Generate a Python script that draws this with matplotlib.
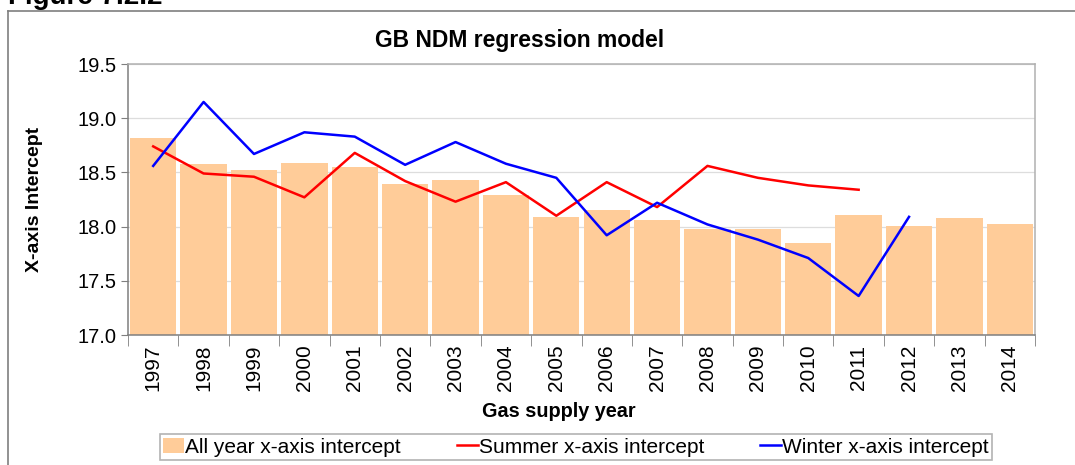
import numpy as np
import matplotlib
matplotlib.use("Agg")
import matplotlib.pyplot as plt
from matplotlib.lines import Line2D
from matplotlib.patches import Patch

plt.rcParams['font.family'] = ['Liberation Sans', 'DejaVu Sans']

# values
years = ['1997', '1998', '1999', '2000', '2001', '2002', '2003', '2004', '2005',
         '2006', '2007', '2008', '2009', '2010', '2011', '2012', '2013', '2014']
all_year = [18.82, 18.58, 18.52, 18.59, 18.55, 18.39, 18.43, 18.29, 18.09,
            18.15, 18.06, 17.98, 17.98, 17.85, 18.11, 18.01, 18.08, 18.02]
summer = [18.74, 18.49, 18.46, 18.27, 18.68, 18.42, 18.23, 18.41, 18.10,
          18.41, 18.18, 18.56, 18.45, 18.38, 18.34]
winter = [18.56, 19.15, 18.67, 18.87, 18.83, 18.57, 18.78, 18.58, 18.45,
          17.92, 18.22, 18.02, 17.88, 17.71, 17.36, 18.09]
y_ticks = [17.0, 17.5, 18.0, 18.5, 19.0, 19.5]

W, H = 1075, 465
fig = plt.figure(figsize=(W / 100, H / 100), dpi=100)

# outer frame (left + top edges visible in the reference)
fig.add_artist(Line2D([7.5 / W, 7.5 / W], [0, 1 - 11.5 / H], transform=fig.transFigure,
                      color='#7f7f7f', lw=1.2))
fig.add_artist(Line2D([7.5 / W, 1], [1 - 11.5 / H, 1 - 11.5 / H], transform=fig.transFigure,
                      color='#7f7f7f', lw=1.2))
# caption cut off at the top of the image, as in the reference
fig.text(8 / W, 1 - 4 / H, 'Figure 7.2.2', fontsize=20, fontweight='bold', va='baseline')

ax = fig.add_axes([128 / W, 1 - 335 / H, (1035 - 128) / W, (335 - 64) / H])
x = np.arange(len(years))
ax.bar(x, all_year, width=0.92, color='#FFCC99', zorder=2, label='All year x-axis intercept')
ax.plot(np.arange(len(summer)), summer, color='#FF0000', lw=1.8, zorder=3,
        label='Summer x-axis intercept')
ax.plot(np.arange(len(winter)), winter, color='#0000FF', lw=1.8, zorder=4,
        label='Winter x-axis intercept')

ax.set_xlim(-0.5, len(years) - 0.5)
ax.set_ylim(17.0, 19.5)
ax.set_yticks(y_ticks)
ax.set_yticklabels([f'{v:.1f}' for v in y_ticks], fontsize=14.5)
ax.set_xticks(x)
ax.set_xticklabels(years, rotation=90, fontsize=15)
ax.set_xticks(np.arange(-0.5, len(years), 1), minor=True)
ax.tick_params(axis='x', which='major', length=0, pad=7)
ax.tick_params(axis='x', which='minor', length=8, color='#7f7f7f', direction='out')
ax.tick_params(axis='y', length=5, color='#7f7f7f', direction='out', pad=3)
ax.grid(axis='y', color='#DDDDDD', lw=0.9, zorder=0)
ax.set_axisbelow(True)
for side in ['left', 'bottom']:
    ax.spines[side].set_color('#7f7f7f')
    ax.spines[side].set_linewidth(1.1)
for side in ['top', 'right']:
    ax.spines[side].set_color('#B0B0B0')
    ax.spines[side].set_linewidth(1.1)

ax.set_ylabel('X-axis Intercept', fontsize=14, fontweight='bold')
ax.yaxis.set_label_coords((43 - 128) / (1035 - 128), 0.5)
fig.text(559 / W, 1 - 411 / H, 'Gas supply year', fontsize=14.3, fontweight='bold',
         ha='center', va='center')
fig.text(520 / W, 1 - 40 / H, 'GB NDM regression model', fontsize=16.5, fontweight='bold',
         ha='center', va='center')

handles = [Patch(facecolor='#FFCC99', edgecolor='none'),
           Line2D([], [], color='#FF0000', lw=1.8),
           Line2D([], [], color='#0000FF', lw=1.8)]
labels = ['All year x-axis intercept', 'Summer x-axis intercept', 'Winter x-axis intercept']
leg = fig.legend(handles, labels, ncol=3, loc='center', bbox_to_anchor=(576 / W, 1 - 447 / H),
                 fontsize=15, frameon=True, fancybox=False, handlelength=1.0,
                 handleheight=0.7, handletextpad=0.05, columnspacing=2.7, borderpad=0.15,
                 borderaxespad=0)
leg.get_frame().set_edgecolor('#A0A0A0')
leg.get_frame().set_linewidth(1.2)

fig.savefig('out.png', dpi=100)
